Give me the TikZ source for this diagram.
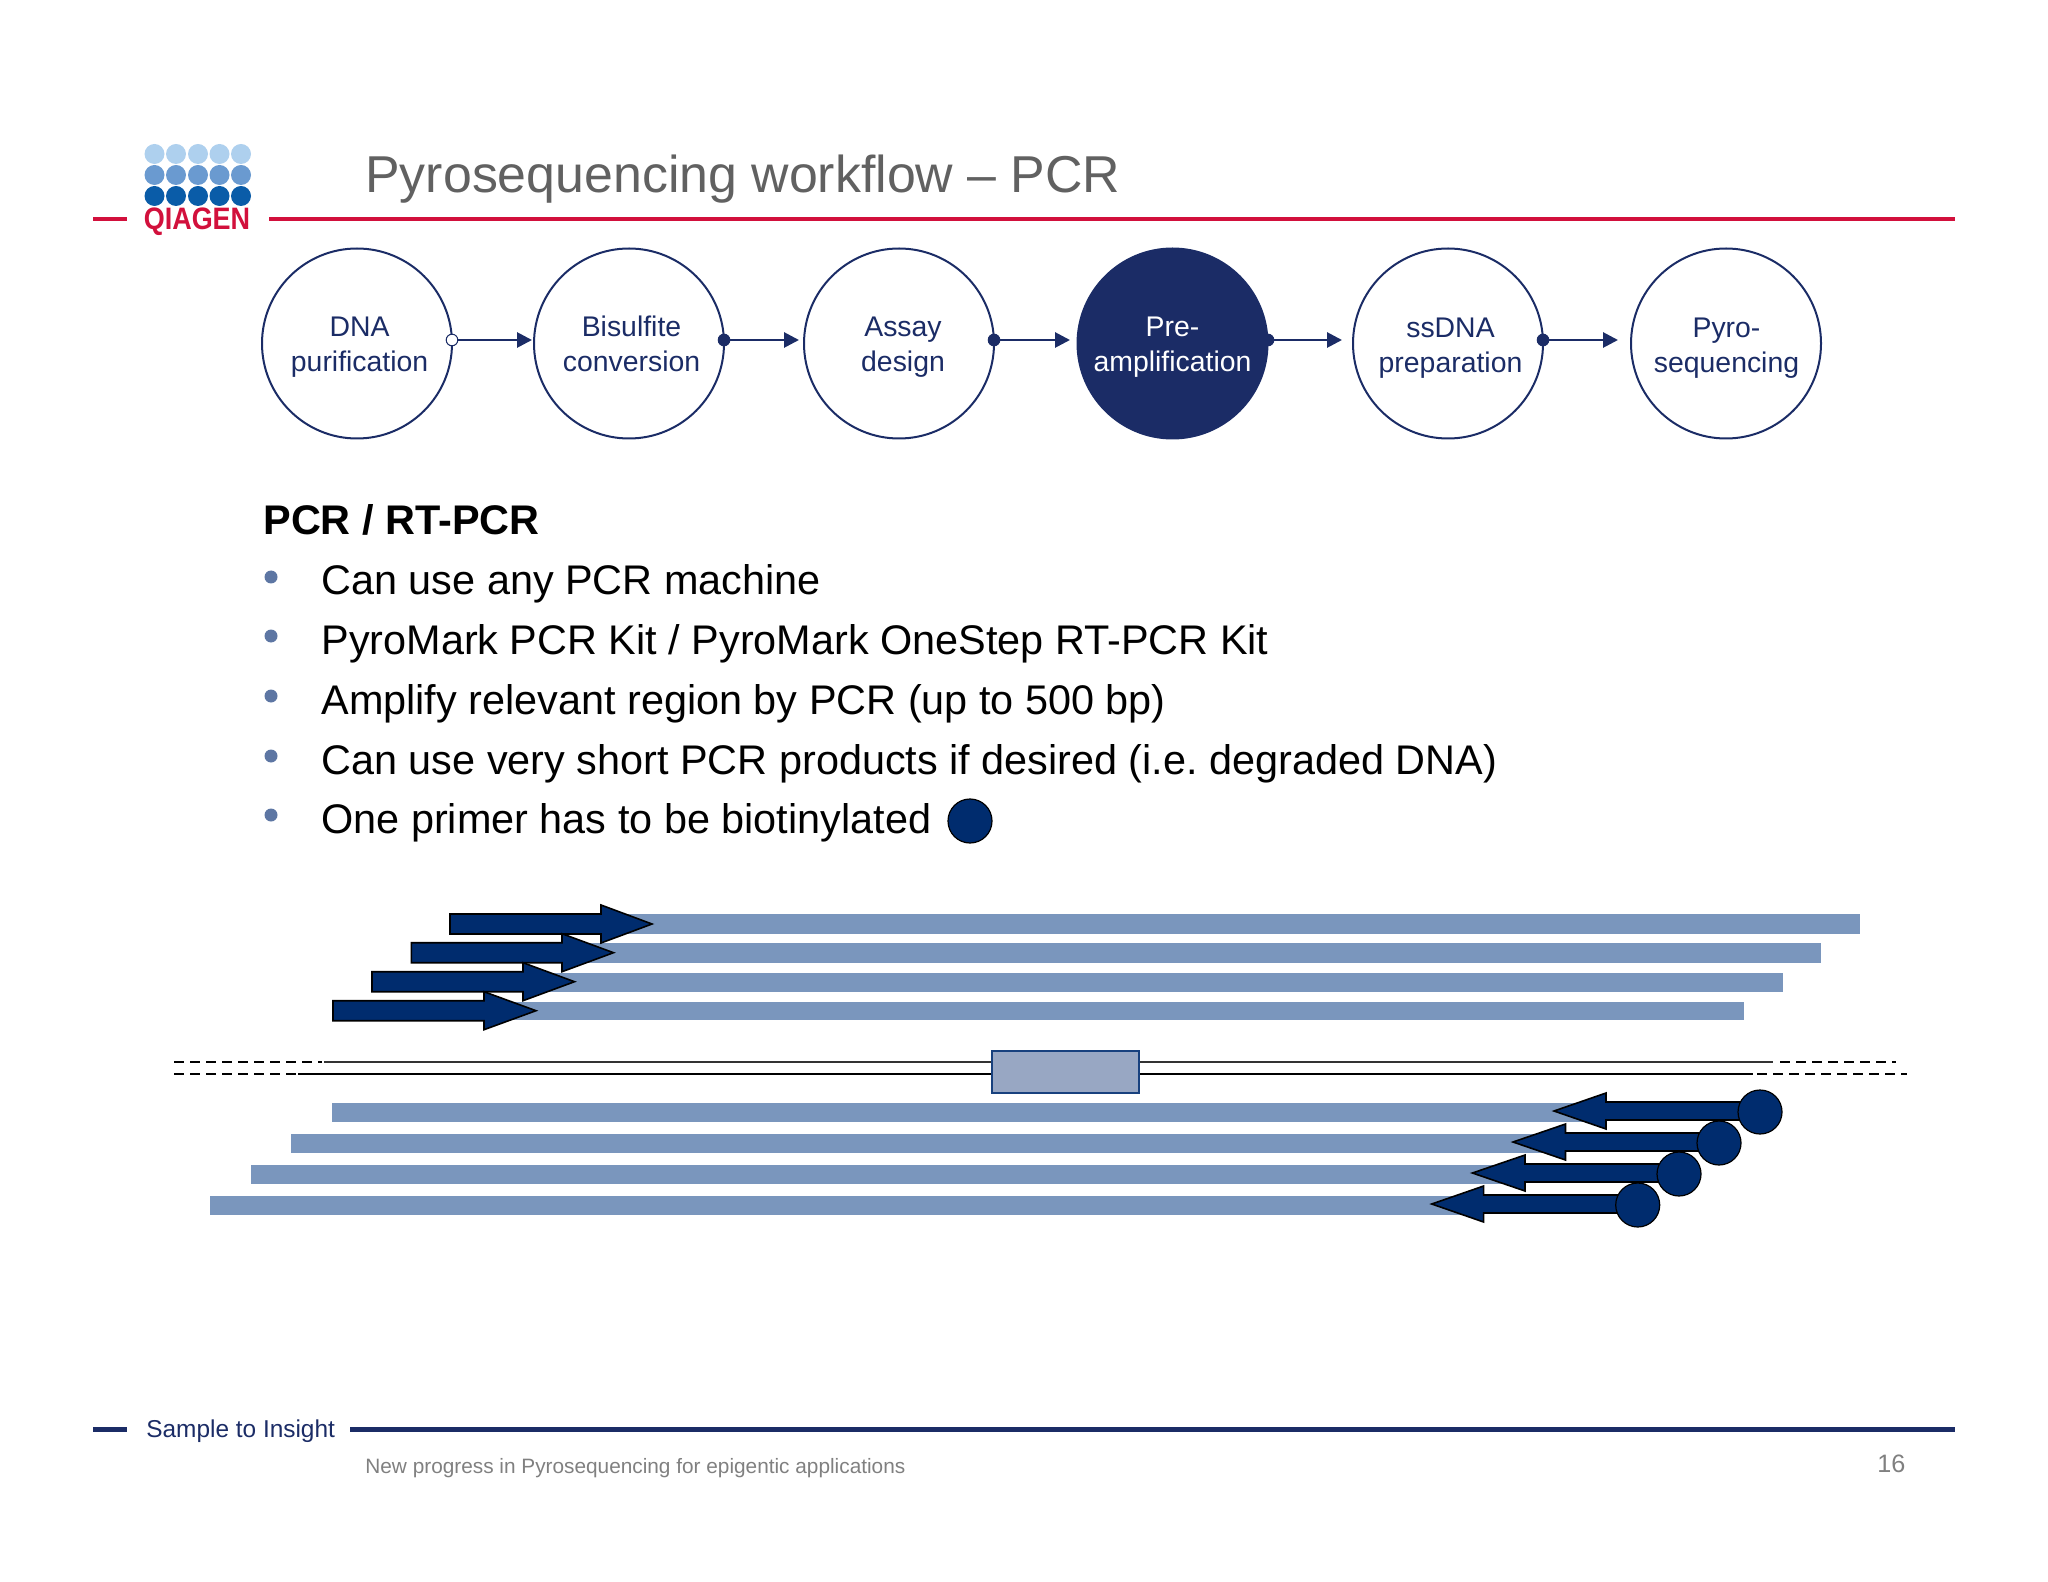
\documentclass[tikz,border=0pt]{standalone}
\usepackage{fontspec}
\setmainfont{Liberation Sans}
\usetikzlibrary{arrows.meta}
\definecolor{navy}{HTML}{1B2C66}
\definecolor{primer}{HTML}{002C6E}
\definecolor{strand}{HTML}{7A96BD}
\definecolor{crimson}{HTML}{D2103C}
\frenchspacing
\begin{document}
\begin{tikzpicture}[x=0.5pt, y=-0.5pt]
  \tikzstyle{stage}=[draw=navy, line width=1pt, circle, minimum size=95pt, inner sep=0pt]
  \tikzstyle{stagelabel}=[inner sep=0pt, align=center, text=navy, font=\fontsize{14.2}{17.5}\selectfont]
  \tikzstyle{joint}=[draw=navy, fill=navy, line width=0.5pt, circle, minimum size=5.8pt, inner sep=0pt]
  \tikzstyle{link}=[navy, line width=1.4pt, -{Triangle[length=7.5pt, width=7.5pt]}]
  \tikzstyle{bodytext}=[anchor=base west, inner sep=0pt, font=\fontsize{20.7}{24}\selectfont]
  \tikzstyle{bullet}=[fill=strand!70!navy, circle, minimum size=6.5pt, inner sep=0pt]
  \tikzstyle{biotin}=[draw=black, fill=primer, line width=0.6pt, circle, minimum size=22pt, inner sep=0pt]
  \tikzstyle{oligo}=[draw=black, fill=primer, line width=0.8pt, line join=miter]
  \tikzstyle{genome}=[black, line width=0.8pt, dash pattern=on 5pt off 3pt]

  \useasboundingbox (0, 0) rectangle (2048, 1582);

  \foreach \c/\y in {AED0EE/154, 6A9AD0/175, 0A5CA8/196} {
    \definecolor{dotcolor}{HTML}{\c}
    \foreach \x in {154.5, 176, 198, 219.5, 241} {
      \fill[dotcolor] (\x, \y) circle (5pt);
    }
  }
  \node[inner sep=0pt, anchor=base, text=crimson, xscale=0.87, font=\fontsize{15.5}{16}\selectfont\bfseries] (logo) at (197, 230) {QIAGEN};
  \fill[crimson] (93, 217) rectangle (127, 221);
  \fill[crimson] (269, 217) rectangle (1955, 221);
  \node[anchor=base west, inner sep=0pt, text=black!62, font=\fontsize{25.93}{30}\selectfont] (title) at (365, 193) {Pyrosequencing workflow – PCR};

  \node[stage] (s1) at (357, 343.5) {};
  \node[stage] (s2) at (629, 343.5) {};
  \node[stage] (s3) at (899, 343.5) {};
  \node[stage, fill=navy] (s4) at (1172.5, 343.5) {};
  \node[stage] (s5) at (1448, 343.5) {};
  \node[stage] (s6) at (1726, 343.5) {};

  \node[stagelabel] (n1) at (359.6, 347) {DNA\\purification};
  \node[stagelabel] (n2) at (631.5, 347) {Bisulfite\\conversion\vphantom{p}};
  \node[stagelabel] (n3) at (903, 347.5) {Assay\\design};
  \node[stagelabel, text=white] (n4) at (1172.5, 347) {Pre-\\amplification};
  \node[stagelabel] (n5) at (1450.5, 348) {ssDNA\\preparation};
  \node[stagelabel] (n6) at (1726.5, 348) {Pyro-\\sequencing};

  \node[joint, fill=white] (d1) at (452, 340) {};
  \node[joint] (d2) at (724, 340) {};
  \node[joint] (d3) at (994, 340) {};
  \node[joint] (d4) at (1268, 340) {};
  \node[joint] (d5) at (1543, 340) {};
  \foreach \i/\x in {1/532, 2/799, 3/1070, 4/1342, 5/1618} {
    \coordinate (t\i) at (\x, 340);
    \draw[link] (d\i) -- (t\i);
  }

  \node[bodytext, font=\fontsize{20.7}{24}\selectfont\bfseries] (head) at (263, 535) {PCR / RT-PCR};
  \foreach \i/\y/\t in {1/595/{Can use any PCR machine}, 2/654/{PyroMark PCR Kit / PyroMark OneStep RT-PCR Kit}, 3/714/{Amplify relevant region by PCR (up to 500 bp)}, 4/774/{Can use very short PCR products if desired (i.e. degraded DNA)}, 5/833/{One primer has to be biotinylated}} {
    \node[bullet] (b\i) at (271, \y-18) {};
    \node[bodytext] (l\i) at (321, \y) {\t};
  }
  \node[biotin] (bio) at (970, 821) {};

  \foreach \l/\r/\t/\b in {601/1860/914/934, 562/1821/943/963, 523/1783/973/992, 484/1744/1002/1020} {
    \fill[strand] (\l, \t) rectangle (\r, \b);
  }
  \foreach \tl/\ba/\ti/\y in {450/601/652/924, 411.4/562/613.5/952.7, 372/523/574.5/981.7, 333/484/536/1010.7} {
    \draw[oligo] (\tl, \y-10) -- (\ba, \y-10) -- (\ba, \y-19) -- (\ti, \y) -- (\ba, \y+19) -- (\ba, \y+10) -- (\tl, \y+10) -- cycle;
  }

  \draw[black!80, line width=1pt] (324, 1062) -- (1773, 1062);
  \draw[black, line width=1pt] (298, 1074) -- (1753, 1074);
  \draw[genome] (174, 1062) -- (322, 1062);
  \draw[genome] (174, 1074) -- (371, 1074);
  \draw[genome] (1780, 1062) -- (1896, 1062);
  \draw[genome] (1709, 1074) -- (1907, 1074);
  \node[draw=primer!80!strand, fill=strand!60!navy!60!white, line width=1pt, minimum width=73.5pt, minimum height=21pt, inner sep=0pt] (box) at (1065.5, 1071.7) {};

  \foreach \l/\r/\t/\b in {331.6/1606/1102.7/1121.7, 291/1565/1133.7/1152.7, 250.7/1525/1165/1184, 210/1484/1196/1215} {
    \fill[strand] (\l, \t) rectangle (\r, \b);
  }
  \foreach \ti/\ba/\tl/\y in {1554/1606/1760/1111, 1513/1565.5/1719/1142, 1472.4/1525/1679/1173, 1431.7/1483.6/1637.7/1204} {
    \draw[oligo] (\tl, \y-9) -- (\ba, \y-9) -- (\ba, \y-18) -- (\ti, \y) -- (\ba, \y+18) -- (\ba, \y+9) -- (\tl, \y+9) -- cycle;
    \node[biotin] at (\tl, \y+1) {};
  }

  \fill[navy] (93, 1427) rectangle (127, 1431.5);
  \fill[navy] (350, 1427) rectangle (1955, 1431.5);
  \node[anchor=base west, inner sep=0pt, text=navy, font=\fontsize{12.2}{15}\selectfont] (slogan) at (146, 1437) {Sample to Insight};
  \node[anchor=base west, inner sep=0pt, text=black!50, font=\fontsize{10.4}{13}\selectfont] (foot) at (365, 1473) {New progress in Pyrosequencing for epigentic applications};
  \node[anchor=base west, inner sep=0pt, text=black!50, font=\fontsize{12.6}{15}\selectfont] (page) at (1877, 1472) {16};
\end{tikzpicture}
\end{document}
